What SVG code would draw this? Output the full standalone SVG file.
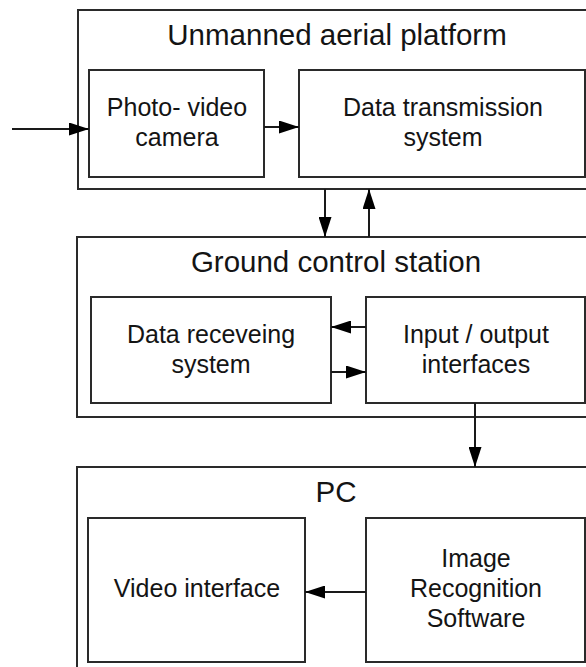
<svg xmlns="http://www.w3.org/2000/svg" width="586" height="667" viewBox="0 0 586 667">
<style>
.box{fill:#fff;stroke:#2a2a2a;stroke-width:2}
.t{font-family:"Liberation Sans",Arial,sans-serif;fill:#141414;text-anchor:middle}
.title{font-size:29.5px}
.lbl{font-size:25px}
.c{stroke:#1a1a1a;stroke-width:2;fill:none;marker-end:url(#ah)}
</style>
<defs>
<marker id="ah" viewBox="0 0 20 13" refX="20" refY="6.5" markerWidth="20" markerHeight="13" markerUnits="userSpaceOnUse" orient="auto">
<polygon points="0,0 20,6.5 0,13" fill="#000"/>
</marker>
</defs>
<rect width="586" height="667" fill="#fff"/>
<g id="uap">
<rect class="box" x="78" y="10" width="530" height="179"/>
<text class="t title" x="337" y="45">Unmanned aerial platform</text>
</g>
<g id="camera">
<rect class="box" x="89" y="70" width="175" height="107"/>
<text class="t lbl" x="177" y="116">Photo- video</text>
<text class="t lbl" x="177" y="146">camera</text>
</g>
<g id="transmission">
<rect class="box" x="299" y="70" width="286" height="107"/>
<text class="t lbl" x="443" y="116">Data transmission</text>
<text class="t lbl" x="443" y="146">system</text>
</g>
<g id="gcs">
<rect class="box" x="77" y="237" width="530" height="180"/>
<text class="t title" x="336" y="272">Ground control station</text>
</g>
<g id="receiving">
<rect class="box" x="91" y="297" width="240" height="106"/>
<text class="t lbl" x="211" y="343">Data receveing</text>
<text class="t lbl" x="211" y="373">system</text>
</g>
<g id="io">
<rect class="box" x="366" y="297" width="219" height="106"/>
<text class="t lbl" x="476" y="343">Input / output</text>
<text class="t lbl" x="476" y="373">interfaces</text>
</g>
<g id="pc">
<rect class="box" x="77" y="467" width="530" height="220"/>
<text class="t title" x="336" y="502">PC</text>
</g>
<g id="video">
<rect class="box" x="88" y="518" width="217" height="144"/>
<text class="t lbl" x="197" y="597">Video interface</text>
</g>
<g id="recognition">
<rect class="box" x="366" y="518" width="219" height="144"/>
<text class="t lbl" x="476" y="567">Image</text>
<text class="t lbl" x="476" y="597">Recognition</text>
<text class="t lbl" x="476" y="627">Software</text>
</g>
<g id="connectors">
<line class="c" x1="12" y1="129" x2="89" y2="129"/>
<line class="c" x1="264" y1="127" x2="299" y2="127"/>
<line class="c" x1="325" y1="189" x2="325" y2="237"/>
<line class="c" x1="369" y1="237" x2="369" y2="189"/>
<line class="c" x1="366" y1="327" x2="331" y2="327"/>
<line class="c" x1="331" y1="372" x2="366" y2="372"/>
<line class="c" x1="475" y1="403" x2="475" y2="467"/>
<line class="c" x1="366" y1="592" x2="305" y2="592"/>
</g>
</svg>
